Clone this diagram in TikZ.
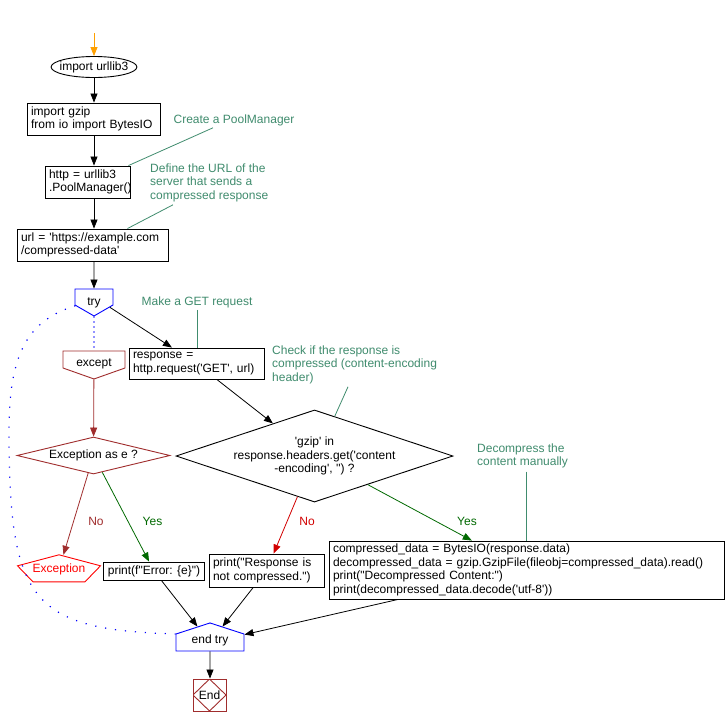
\documentclass[tikz,border=0pt]{standalone}
\usepackage{fontspec}
\setmainfont{Liberation Sans}[Ligatures=TeXOff]
\usetikzlibrary{arrows.meta,shapes.geometric,shapes.symbols}

\definecolor{notegreen}{RGB}{64,140,110}
\definecolor{yesgreen}{RGB}{0,105,0}
\definecolor{nored}{RGB}{210,0,0}
\definecolor{darkred}{RGB}{160,45,45}
\definecolor{startorange}{RGB}{255,160,0}

\begin{document}
\begin{tikzpicture}[x=1pt, y=-1pt, >={Triangle[length=9pt,width=7pt]},
    font=\fontsize{12pt}{13.5pt}\selectfont]
  \tikzstyle{blk} = [draw, line width=0.9pt, inner xsep=4pt, inner ysep=2pt, align=left]
  \tikzstyle{note} = [text=notegreen, align=left, inner sep=0pt]
  \tikzstyle{noteline} = [draw=notegreen, line width=0.8pt]
  \tikzstyle{flow} = [->, line width=0.8pt]
  \tikzstyle{sig} = [shape=signal, signal from=nowhere, line width=0.9pt, inner sep=0pt]
  \tikzstyle{dec} = [diamond, draw, line width=0.9pt, inner sep=0pt, align=center]
  \tikzstyle{endblk} = [draw=darkred, line width=0.9pt, minimum width=33pt, minimum height=32pt,
                        inner sep=0pt, path picture={\draw[darkred, line width=0.9pt]
                        (path picture bounding box.north) -- (path picture bounding box.east) --
                        (path picture bounding box.south) -- (path picture bounding box.west) -- cycle;}]

  \fill[white] (0,0) rectangle (726,726);

  % main column
  \coordinate (start) at (94,33);
  \node[draw, ellipse, line width=0.9pt, inner xsep=-4pt, inner ysep=0pt, minimum height=21pt] (imp) at (94,67) {import urllib3};
  \node[blk, text width=125pt, minimum height=32pt] (gzipio) at (93.5,119) {import gzip\\from io import BytesIO};
  \node[blk, text width=77pt, minimum height=32pt] (pool) at (87.5,182) {http = urllib3\\.PoolManager()};
  \node[blk, text width=143pt, minimum height=32pt] (url) at (92.5,245) {url = 'https://example.com\\/compressed-data'};
  \node[sig, draw=blue, signal to=south, signal pointer angle=120, minimum width=38pt,
        text height=16pt, text depth=0pt] (try) at (94,297) {try};
  \node[sig, draw=darkred, signal to=south, signal pointer angle=141, minimum width=62pt,
        text height=15.5pt, text depth=1.5pt] (except) at (94,359.5) {except};
  \node[blk, text width=127pt, minimum height=31pt] (resp) at (196.5,363.5) {response =\\http.request('GET', url)};

  % decisions
  \node[dec, aspect=3, minimum width=277pt, minimum height=92pt] (gz) at (314.5,456) {'gzip' in\\response.headers.get('content\\-encoding', '') ?};
  \node[dec, draw=darkred, aspect=4, minimum width=153pt, minimum height=37pt] (exc) at (93.5,455.5) {Exception as e ?};

  % outcomes
  \node[text=red, minimum width=83pt, minimum height=29pt, inner sep=0pt] (raise) at (59,569.5) {Exception};
  \draw[red, line width=0.9pt] (raise.north) -- ++(41.5,11) -- ++(-15.5,16) -- ++(-52,0) -- ++(-15.5,-16) -- cycle;
  \node[blk, minimum width=98pt, minimum height=18pt] (perr) at (154,571) {print(f"Error: \{e\}")};
  \node[blk, text width=107pt, minimum height=33pt] (pnc) at (266.5,570.5) {print("Response is\\not compressed.")};
  \node[blk, text width=387pt, minimum height=58pt] (unzip) at (526.5,570) {compressed\_data = BytesIO(response.data)\\decompressed\_data = gzip.GzipFile(fileobj=compressed\_data).read()\\print("Decompressed Content:")\\print(decompressed\_data.decode('utf-8'))};
  \node[sig, draw=blue, signal to=north, signal pointer angle=144, minimum width=68pt,
        text height=9.5pt, text depth=7.5pt] (endtry) at (210,642.5) {end try};
  \node[endblk] (stop) at (209.5,695) {End};

  % comments
  \node[note] (n1) at (234,120) {Create a PoolManager};
  \node[note, anchor=west] (n2) at (150,182.5) {Define the URL of the\\server that sends a\\compressed response};
  \node[note] (n3) at (197,302) {Make a GET request};
  \node[note, anchor=west] (n4) at (272,364.5) {Check if the response is\\compressed (content-encoding\\header)};
  \node[note, anchor=west] (n5) at (477,456) {Decompress the\\content manually};
  \draw[noteline] (n1.south) ++(-21,2) -- ([xshift=-2pt]pool.north east);
  \draw[noteline] (n2.south west) ++(23,3) -- ([xshift=-41pt]url.north east);
  \draw[noteline] (n3.south) ++(0,2) -- (n3.south |- resp.north);
  \draw[noteline] (n4.south west) ++(76,3) -- (gz.63);
  \draw[noteline] (n5.south -| unzip.north) ++(0,3) -- (unzip.north);

  % connectors
  \draw[flow, startorange] (start) -- (imp);
  \draw[flow] (imp) -- (imp |- gzipio.north);
  \draw[flow] (gzipio.south -| imp) -- (pool.north -| imp);
  \draw[flow] (pool.south -| imp) -- (url.north -| imp);
  \draw[flow] (url.south -| imp) -- (try);
  \draw[flow] (try) -- (resp);
  \draw[flow] (resp) -- (gz);
  \draw[flow, darkred] (except) -- (exc);
  \draw[flow, darkred] (exc) -- (raise) node[pos=0.59, right=11pt, text=darkred] {No};
  \draw[flow, yesgreen] (exc) -- (perr) node[pos=0.55, right=11pt] {Yes};
  \draw[flow, nored] (gz) -- (pnc) node[pos=0.43, right=8.5pt] {No};
  \draw[flow, yesgreen] (gz) -- (unzip) node[pos=0.66, right=17pt] {Yes};
  \draw[flow] (perr) -- (endtry);
  \draw[flow] (pnc) -- (endtry);
  \draw[flow] (unzip) -- (endtry);
  \draw[flow] (endtry) -- (endtry |- stop.north);

  % try scope lines
  \draw[blue, line width=1.2pt, dash pattern=on 1.2pt off 3.8pt] (try) -- (except);
  \draw[blue, line width=1.2pt, dash pattern=on 1.2pt off 8.8pt] (try.205) .. controls (30,320) and (9,350) .. (9,430)
    .. controls (9,600) and (30,630) .. (endtry.166);
\end{tikzpicture}
\end{document}
